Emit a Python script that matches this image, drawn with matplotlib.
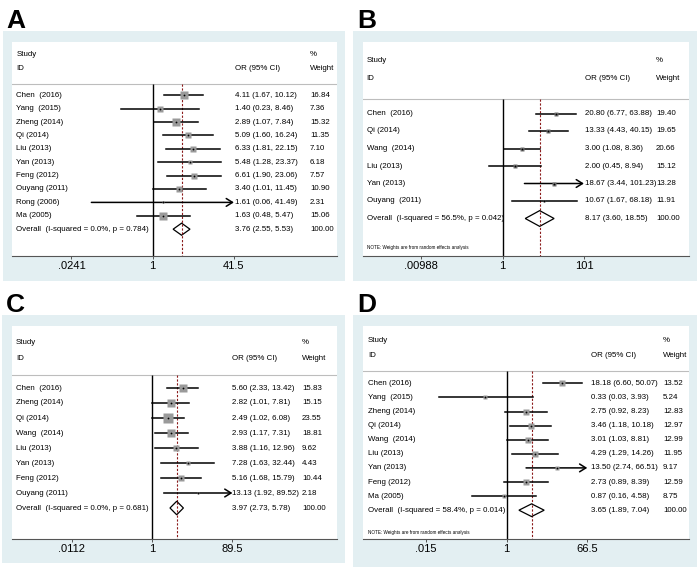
import numpy as np
import matplotlib
matplotlib.use('Agg')
import matplotlib.pyplot as plt
from matplotlib.patches import Polygon, Rectangle
from matplotlib.ticker import NullLocator

plt.rcParams['font.family'] = ['Liberation Sans', 'DejaVu Sans']

W, H = 700, 567

# ---------------- data ----------------
# panel A
a_names = ['Chen  (2016)', 'Yang  (2015)', 'Zheng (2014)', 'Qi (2014)', 'Liu (2013)',
           'Yan (2013)', 'Feng (2012)', 'Ouyang (2011)', 'Rong (2006)', 'Ma (2005)']
a_or = [4.11, 1.40, 2.89, 5.09, 6.33, 5.48, 6.61, 3.40, 1.61, 1.63]
a_lo = [1.67, 0.23, 1.07, 1.60, 1.81, 1.28, 1.90, 1.01, 0.06, 0.48]
a_hi = [10.12, 8.46, 7.84, 16.24, 22.15, 23.37, 23.06, 11.45, 41.49, 5.47]
a_wt = [16.84, 7.36, 15.32, 11.35, 7.10, 6.18, 7.57, 10.90, 2.31, 15.06]
a_overall = [3.76, 2.55, 5.53]
a_het = 'Overall  (I-squared = 0.0%, p = 0.784)'
a_ticks = [0.0241, 1, 41.5]
a_ticklabels = ['.0241', '1', '41.5']

# panel B
b_names = ['Chen  (2016)', 'Qi (2014)', 'Wang  (2014)', 'Liu (2013)', 'Yan (2013)', 'Ouyang  (2011)']
b_or = [20.80, 13.33, 3.00, 2.00, 18.67, 10.67]
b_lo = [6.77, 4.43, 1.08, 0.45, 3.44, 1.67]
b_hi = [63.88, 40.15, 8.36, 8.94, 101.23, 68.18]
b_wt = [19.40, 19.65, 20.66, 15.12, 13.28, 11.91]
b_overall = [8.17, 3.60, 18.55]
b_het = 'Overall  (I-squared = 56.5%, p = 0.042)'
b_ticks = [0.00988, 1, 101]
b_ticklabels = ['.00988', '1', '101']

# panel C
c_names = ['Chen  (2016)', 'Zheng (2014)', 'Qi (2014)', 'Wang  (2014)', 'Liu (2013)',
           'Yan (2013)', 'Feng (2012)', 'Ouyang (2011)']
c_or = [5.60, 2.82, 2.49, 2.93, 3.88, 7.28, 5.16, 13.13]
c_lo = [2.33, 1.01, 1.02, 1.17, 1.16, 1.63, 1.68, 1.92]
c_hi = [13.42, 7.81, 6.08, 7.31, 12.96, 32.44, 15.79, 89.52]
c_wt = [15.83, 15.15, 23.55, 18.81, 9.62, 4.43, 10.44, 2.18]
c_overall = [3.97, 2.73, 5.78]
c_het = 'Overall  (I-squared = 0.0%, p = 0.681)'
c_ticks = [0.0112, 1, 89.5]
c_ticklabels = ['.0112', '1', '89.5']

# panel D
d_names = ['Chen (2016)', 'Yang  (2015)', 'Zheng (2014)', 'Qi (2014)', 'Wang  (2014)',
           'Liu (2013)', 'Yan (2013)', 'Feng (2012)', 'Ma (2005)']
d_or = [18.18, 0.33, 2.75, 3.46, 3.01, 4.29, 13.50, 2.73, 0.87]
d_lo = [6.60, 0.03, 0.92, 1.18, 1.03, 1.29, 2.74, 0.89, 0.16]
d_hi = [50.07, 3.93, 8.23, 10.18, 8.81, 14.26, 66.51, 8.39, 4.58]
d_wt = [13.52, 5.24, 12.83, 12.97, 12.99, 11.95, 9.17, 12.59, 8.75]
d_overall = [3.65, 1.89, 7.04]
d_het = 'Overall  (I-squared = 58.4%, p = 0.014)'
d_ticks = [0.015, 1, 66.5]
d_ticklabels = ['.015', '1', '66.5']

note_text = 'NOTE: Weights are from random effects analysis'

BLUE = '#e3eff2'
FS = 5.7


def forest(fig, letter, letter_xy, box, white, null_px, scale, y0, step, cols,
           names, ors, los, his, wts, overall, het, ticks, ticklabels, sq,
           sqcolor='#9a9a9a', note=None):
    # light blue graph region
    bx0, by0, bx1, by1 = box
    fig.add_artist(Rectangle((bx0 / W, 1 - by1 / H), (bx1 - bx0) / W, (by1 - by0) / H,
                             transform=fig.transFigure, facecolor=BLUE,
                             edgecolor='none', zorder=-1))
    fig.text(letter_xy[0] / W, 1 - letter_xy[1] / H, letter, fontsize=19,
             fontweight='bold', va='baseline', ha='left')

    x0, y0w, x1, y1w = white
    ax = fig.add_axes([x0 / W, 1 - y1w / H, (x1 - x0) / W, (y1w - y0w) / H])
    ax.set_xscale('log')
    ax.set_xlim(np.exp((x0 - null_px) / scale), np.exp((x1 - null_px) / scale))
    ybot = (y1w - y0) / step
    ax.set_ylim(ybot, (y0w - y0) / step)
    ax.set_facecolor('white')

    tr = ax.get_yaxis_transform()
    fx = lambda px: (px - x0) / (x1 - x0)
    name_x, or_x, wt_x = fx(cols[0]), fx(cols[1]), fx(cols[2])

    # header
    ax.text(name_x, 0, 'Study', transform=tr, fontsize=FS, va='center')
    ax.text(name_x, 1, 'ID', transform=tr, fontsize=FS, va='center')
    ax.text(or_x, 1, 'OR (95% CI)', transform=tr, fontsize=FS, va='center')
    ax.text(wt_x, 0, '%', transform=tr, fontsize=FS, va='center')
    ax.text(wt_x, 1, 'Weight', transform=tr, fontsize=FS, va='center')

    sep = 2.15
    ax.axhline(sep, color='#bdbdbd', lw=0.8)
    ax.vlines(1, sep, ybot, colors='black', lw=1.0, zorder=2)
    ax.vlines(overall[0], sep, ybot, colors='#8b1a1a', lw=0.8,
              linestyles=(0, (2, 1.5)), zorder=2)

    xmax = ticks[-1]
    for i, (nm, o, lo, hi, w) in enumerate(zip(names, ors, los, his, wts)):
        r = 3 + i
        ax.text(name_x, r, nm, transform=tr, fontsize=FS, va='center')
        ax.text(or_x, r, f'{o:.2f} ({lo:.2f}, {hi:.2f})', transform=tr,
                fontsize=FS, va='center')
        ax.text(wt_x, r, f'{w:.2f}', transform=tr, fontsize=FS, va='center')
        if hi >= xmax * 0.99:
            ax.annotate('', xy=(xmax, r), xytext=(lo, r),
                        arrowprops=dict(arrowstyle='->,head_length=0.45,head_width=0.28',
                                        lw=1.1, color='black', shrinkA=0, shrinkB=0),
                        zorder=3)
        else:
            ax.plot([lo, hi], [r, r], color='black', lw=1.1, zorder=3)
        side = sq * np.sqrt(w) * 0.72
        ax.plot(o, r, marker='s', ms=side, color=sqcolor, mec='none', zorder=4)
        ax.plot(o, r, marker='o', ms=1.3, color='black', mec='none', zorder=5)

    r = 3 + len(names)
    ax.text(name_x, r, het, transform=tr, fontsize=FS, va='center')
    ax.text(or_x, r, f'{overall[0]:.2f} ({overall[1]:.2f}, {overall[2]:.2f})',
            transform=tr, fontsize=FS, va='center')
    ax.text(wt_x, r, '100.00', transform=tr, fontsize=FS, va='center')
    h = 0.45
    ax.add_patch(Polygon([(overall[1], r), (overall[0], r - h), (overall[2], r),
                          (overall[0], r + h)], closed=True, facecolor='white',
                         edgecolor='black', lw=0.9, zorder=4))
    ax.vlines(overall[0], r - h + 0.05, r + h - 0.05, colors='#8b1a1a', lw=0.8,
              linestyles=(0, (2, 1.5)), zorder=5)

    if note is not None:
        ax.text(name_x, note[1], note[0], transform=tr, fontsize=3.3, va='center')

    for s in ['top', 'left', 'right']:
        ax.spines[s].set_visible(False)
    ax.spines['bottom'].set_color('#555555')
    ax.spines['bottom'].set_linewidth(0.8)
    ax.set_yticks([])
    ax.set_xticks(ticks)
    ax.set_xticklabels(ticklabels)
    ax.xaxis.set_minor_locator(NullLocator())
    ax.tick_params(axis='x', direction='out', length=2.5, width=0.7, color='#555555',
                   labelsize=8, pad=1.5)
    return ax


fig = plt.figure(figsize=(7, 5.67), dpi=100, facecolor='white')

forest(fig, 'A', (6, 28), (3, 31, 345, 281), (12, 42, 336.5, 255.5), 152.7, 21.8, 55, 13.4,
       (16.5, 235, 310), a_names, a_or, a_lo, a_hi, a_wt, a_overall, a_het,
       a_ticks, a_ticklabels, 1.9)
forest(fig, 'B', (357, 28), (353, 31, 697, 281), (362.5, 42, 689, 255.5), 502.7, 17.6, 61, 17.5,
       (366.5, 585, 656), b_names, b_or, b_lo, b_hi, b_wt, b_overall, b_het,
       b_ticks, b_ticklabels, 0.85, sqcolor='#707070', note=(note_text, 10.63))
forest(fig, 'C', (6, 312), (2, 315, 345, 563), (12, 326, 336.5, 538.5), 152.0, 17.9, 343, 15,
       (16, 232, 302), c_names, c_or, c_lo, c_hi, c_wt, c_overall, c_het,
       c_ticks, c_ticklabels, 1.9)
forest(fig, 'D', (357, 312), (353, 315, 697, 567), (362.5, 326, 689, 538.5), 506.7, 19.2, 341, 14.1,
       (368, 591, 663), d_names, d_or, d_lo, d_hi, d_wt, d_overall, d_het,
       d_ticks, d_ticklabels, 1.5, note=(note_text, 13.55))

fig.savefig('out.png', dpi=100, facecolor='white')
